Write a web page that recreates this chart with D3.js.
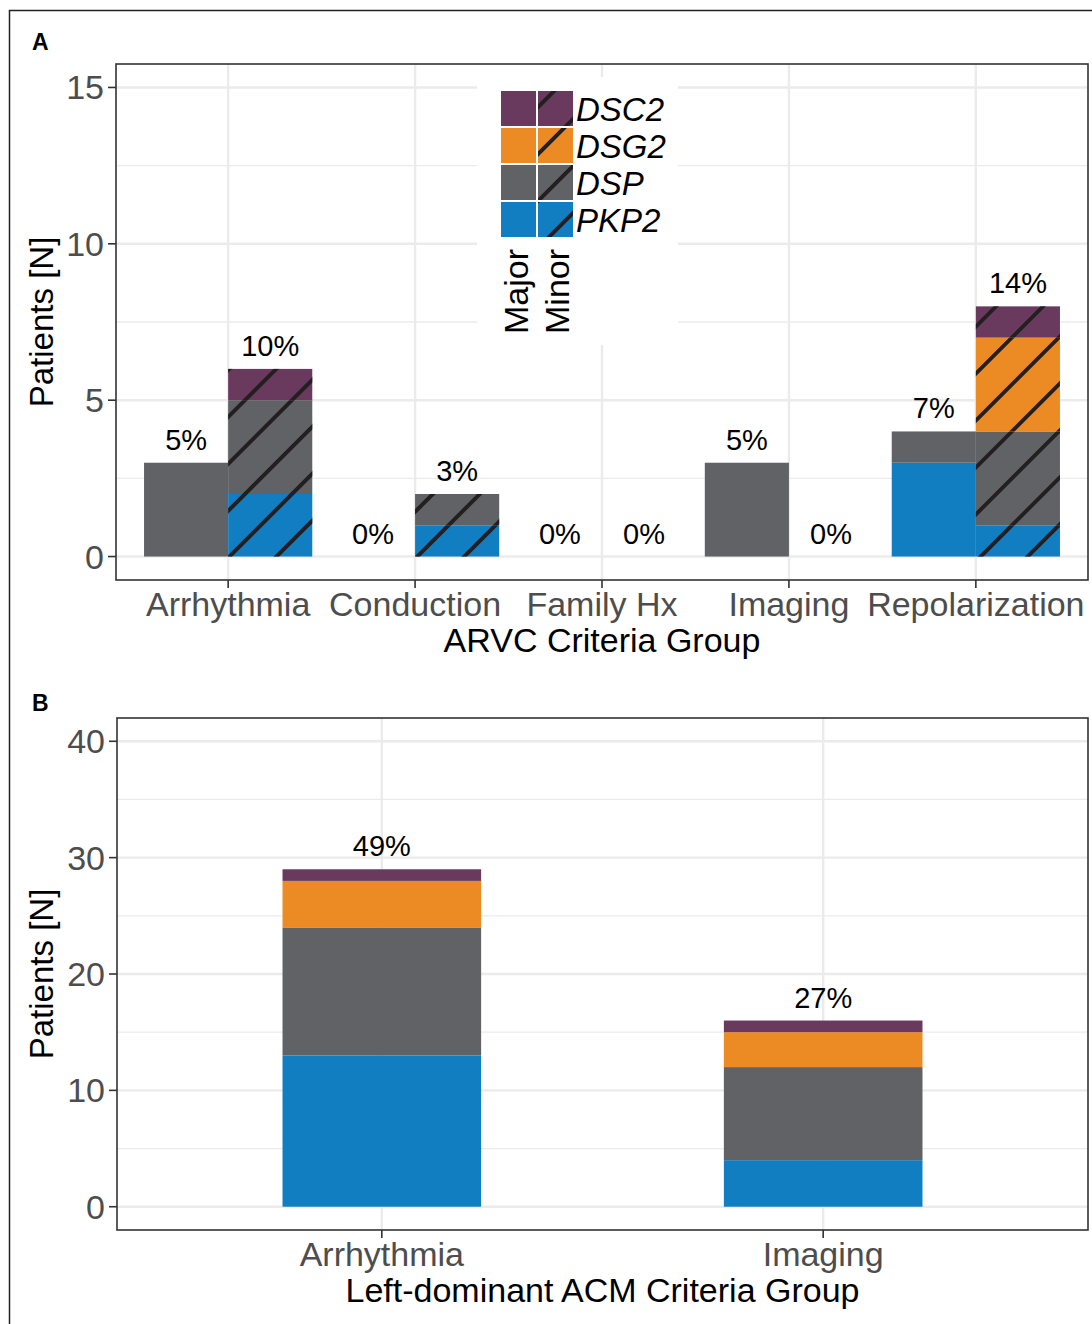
<!DOCTYPE html>
<html>
<head>
<meta charset="utf-8">
<script src="https://cdn.jsdelivr.net/npm/d3@7"></script>
<style>
  body { margin: 0; background: #fff; }
  text { font-family: "Liberation Sans", Arial, Helvetica, sans-serif; }
</style>
</head>
<body>
<svg id="fig" width="1092" height="1324"></svg>
<script>

// genes, stacked bottom -> top
var genes = ["PKP2", "DSP", "DSG2", "DSC2"];
var geneColors = ["#117EC2", "#616265", "#EC8B23", "#69395E"];

// panel A : ARVC criteria
var arvcGroups = ["Arrhythmia", "Conduction", "Family Hx", "Imaging", "Repolarization"];
// counts per group, in gene order PKP2, DSP, DSG2, DSC2
var arvcMajor = [[0, 3, 0, 0], [0, 0, 0, 0], [0, 0, 0, 0], [0, 3, 0, 0], [3, 1, 0, 0]];
var arvcMinor = [[2, 3, 0, 1], [1, 1, 0, 0], [0, 0, 0, 0], [0, 0, 0, 0], [1, 3, 3, 1]];
var arvcMajorPct = ["5%", "0%", "0%", "5%", "7%"];
var arvcMinorPct = ["10%", "3%", "0%", "0%", "14%"];
var arvcTicks = [0, 5, 10, 15];
var arvcMinorTicks = [2.5, 7.5, 12.5];

// panel B : left-dominant ACM criteria
var acmGroups = ["Arrhythmia", "Imaging"];
var acmCounts = [[13, 11, 4, 1], [4, 8, 3, 1]];
var acmPct = ["49%", "27%"];
var acmTicks = [0, 10, 20, 30, 40];
var acmMinorTicks = [5, 15, 25, 35];

var svg = d3.select("#fig");

// hatch pattern for minor criteria
var defs = svg.append("defs");
defs.append("pattern")
  .attr("id", "hatch")
  .attr("patternUnits", "userSpaceOnUse")
  .attr("width", 33.2)
  .attr("height", 33.2)
  .attr("patternTransform", "rotate(-45) translate(0,8)")
  .append("line")
  .attr("x1", -1).attr("x2", 34.2)
  .attr("y1", 16.6).attr("y2", 16.6)
  .attr("stroke", "#231F20")
  .attr("stroke-width", 3.8);

// outer frame
svg.append("rect")
  .attr("x", 9.5).attr("y", 10.5)
  .attr("width", 1200).attr("height", 1400)
  .attr("fill", "none")
  .attr("stroke", "#222")
  .attr("stroke-width", 1.5);

var toRows = function(groups, counts) {
  return groups.map(function(g, i) {
    var row = {group: g};
    genes.forEach(function(k, j) { row[k] = counts[i][j]; });
    return row;
  });
};

var drawPanel = function(opt) {

  var g = svg.append("g");

  var x = d3.scalePoint().domain(opt.groups).range([opt.left, opt.right]).padding(0.6);
  var step = x.step();
  var y = d3.scaleLinear().domain(opt.ydomain).range([opt.bottom, opt.top]);

  // grid
  g.selectAll(".gminor").data(opt.minorTicks).enter().append("line")
    .attr("x1", opt.left).attr("x2", opt.right)
    .attr("y1", function(d) { return y(d); }).attr("y2", function(d) { return y(d); })
    .attr("stroke", "#EBEBEB").attr("stroke-width", 1.3);
  g.selectAll(".gmajor").data(opt.ticks).enter().append("line")
    .attr("x1", opt.left).attr("x2", opt.right)
    .attr("y1", function(d) { return y(d); }).attr("y2", function(d) { return y(d); })
    .attr("stroke", "#EBEBEB").attr("stroke-width", 2.4);
  g.selectAll(".gx").data(opt.groups).enter().append("line")
    .attr("x1", function(d) { return x(d); }).attr("x2", function(d) { return x(d); })
    .attr("y1", opt.top).attr("y2", opt.bottom)
    .attr("stroke", "#EBEBEB").attr("stroke-width", 2.4);

  // bars
  var bw = step * 0.45;
  opt.series.forEach(function(s) {
    var stacked = d3.stack().keys(genes)(toRows(opt.groups, s.counts));
    stacked.forEach(function(layer, li) {
      layer.forEach(function(d) {
        if (d[1] - d[0] <= 0) return;
        var bx = x(d.data.group) + s.shift * bw;
        g.append("rect")
          .attr("x", bx).attr("width", bw)
          .attr("y", y(d[1])).attr("height", y(d[0]) - y(d[1]))
          .attr("fill", geneColors[li]);
        if (s.hatched) {
          g.append("rect")
            .attr("x", bx).attr("width", bw)
            .attr("y", y(d[1])).attr("height", y(d[0]) - y(d[1]))
            .attr("fill", "url(#hatch)");
        }
      });
    });
    // percent labels
    opt.groups.forEach(function(grp, i) {
      var total = d3.sum(s.counts[i]);
      g.append("text")
        .attr("x", x(grp) + s.shift * bw + bw / 2)
        .attr("y", y(total) - opt.labelGap)
        .attr("text-anchor", "middle")
        .attr("font-size", 29)
        .attr("fill", "#000")
        .text(s.pct[i]);
    });
  });

  // panel border
  g.append("rect")
    .attr("x", opt.left).attr("y", opt.top)
    .attr("width", opt.right - opt.left).attr("height", opt.bottom - opt.top)
    .attr("fill", "none").attr("stroke", "#333").attr("stroke-width", 1.6);

  // y axis
  g.selectAll(".yt").data(opt.ticks).enter().append("line")
    .attr("x1", opt.left - 8).attr("x2", opt.left)
    .attr("y1", function(d) { return y(d); }).attr("y2", function(d) { return y(d); })
    .attr("stroke", "#333").attr("stroke-width", 1.6);
  g.selectAll(".yl").data(opt.ticks).enter().append("text")
    .attr("x", opt.left - 12)
    .attr("y", function(d) { return y(d) + 12; })
    .attr("text-anchor", "end")
    .attr("font-size", 34)
    .attr("fill", "#4D4D4D")
    .text(function(d) { return d; });

  // x axis
  g.selectAll(".xt").data(opt.groups).enter().append("line")
    .attr("x1", function(d) { return x(d); }).attr("x2", function(d) { return x(d); })
    .attr("y1", opt.bottom).attr("y2", opt.bottom + 8)
    .attr("stroke", "#333").attr("stroke-width", 1.6);
  g.selectAll(".xl").data(opt.groups).enter().append("text")
    .attr("x", function(d) { return x(d); })
    .attr("y", opt.bottom + 36)
    .attr("text-anchor", "middle")
    .attr("font-size", 34)
    .attr("fill", "#4D4D4D")
    .text(function(d) { return d; });

  // titles
  g.append("text")
    .attr("x", (opt.left + opt.right) / 2)
    .attr("y", opt.bottom + 72)
    .attr("text-anchor", "middle")
    .attr("font-size", 34)
    .attr("fill", "#000")
    .text(opt.xTitle);
  g.append("text")
    .attr("transform", "translate(53," + ((opt.top + opt.bottom) / 2) + ") rotate(-90)")
    .attr("text-anchor", "middle")
    .attr("font-size", 33)
    .attr("fill", "#000")
    .text("Patients [N]");
  g.append("text")
    .attr("x", 32).attr("y", opt.tagY)
    .attr("font-size", 23)
    .attr("font-weight", "bold")
    .attr("fill", "#000")
    .text(opt.tag);

  return g;
};

drawPanel({
  tag: "A", tagY: 50,
  left: 116, right: 1088, top: 64, bottom: 580,
  groups: arvcGroups,
  ydomain: [-0.75, 15.75],
  ticks: arvcTicks, minorTicks: arvcMinorTicks,
  labelGap: 13,
  series: [
    {counts: arvcMajor, pct: arvcMajorPct, shift: -1, hatched: false},
    {counts: arvcMinor, pct: arvcMinorPct, shift: 0, hatched: true}
  ],
  xTitle: "ARVC Criteria Group"
});

drawPanel({
  tag: "B", tagY: 711,
  left: 117, right: 1088, top: 718, bottom: 1230,
  groups: acmGroups,
  ydomain: [-2, 42],
  ticks: acmTicks, minorTicks: acmMinorTicks,
  labelGap: 13,
  series: [
    {counts: acmCounts, pct: acmPct, shift: -0.5, hatched: false}
  ],
  xTitle: "Left-dominant ACM Criteria Group"
});

// legend (panel A)
var leg = svg.append("g");
leg.append("rect")
  .attr("x", 477).attr("y", 77).attr("width", 201).attr("height", 268)
  .attr("fill", "#fff");

var legGenes = genes.slice().reverse();
legGenes.forEach(function(name, i) {
  var col = geneColors[genes.indexOf(name)];
  var ky = 91 + i * 37;
  leg.append("rect").attr("x", 501).attr("y", ky).attr("width", 35).attr("height", 35).attr("fill", col);
  leg.append("rect").attr("x", 538).attr("y", ky).attr("width", 35).attr("height", 35).attr("fill", col);
  leg.append("rect").attr("x", 538).attr("y", ky).attr("width", 35).attr("height", 35).attr("fill", "url(#hatch)");
  leg.append("text")
    .attr("x", 576).attr("y", ky + 30)
    .attr("font-size", 33)
    .attr("font-style", "italic")
    .attr("fill", "#000")
    .text(name);
});

["Major", "Minor"].forEach(function(name, i) {
  leg.append("text")
    .attr("transform", "translate(" + (528 + i * 41) + ",334) rotate(-90)")
    .attr("text-anchor", "start")
    .attr("font-size", 34)
    .attr("fill", "#000")
    .text(name);
});

</script>
</body>
</html>
